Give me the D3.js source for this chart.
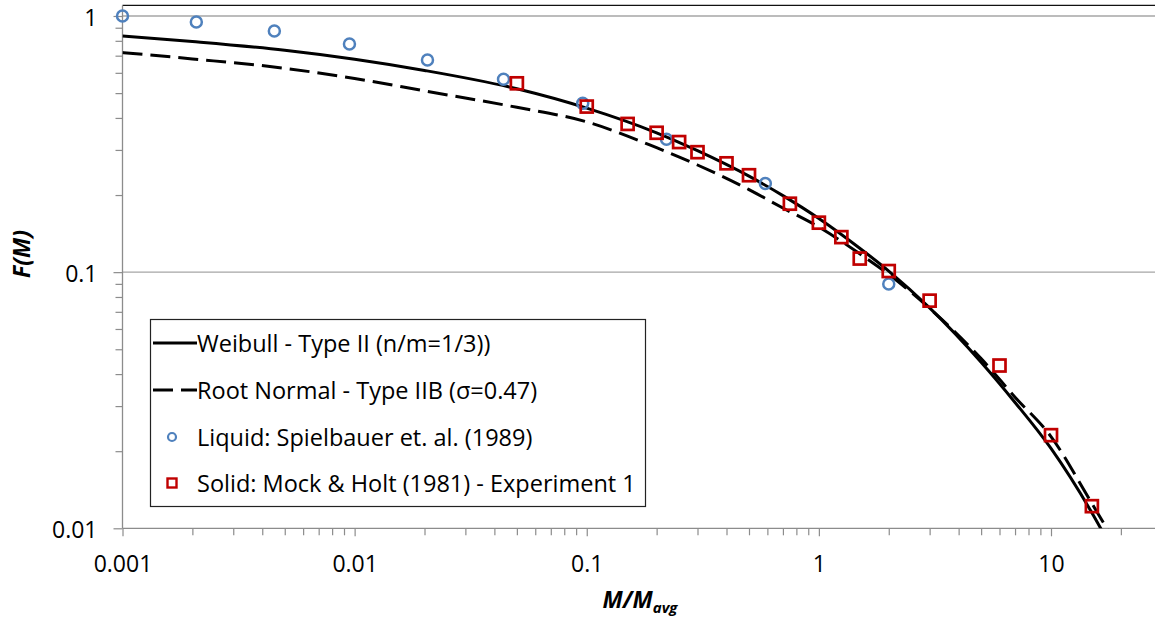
<!DOCTYPE html>
<html>
<head>
<meta charset="utf-8">
<script src="https://cdn.jsdelivr.net/npm/d3@7"></script>
<style>
  body { margin: 0; background: #fff; }
  svg text { font-family: "Open Sans", sans-serif; fill: #000; }
</style>
</head>
<body>
<div id="chart"></div>
<script>
// tick labels
var xMajor = [0.001, 0.01, 0.1, 1, 10];
var xLabels = ["0.001", "0.01", "0.1", "1", "10"];
var yMajor = [0.01, 0.1, 1];
var yLabels = ["0.01", "0.1", "1"];

// Weibull - Type II
var weibullM = [0.001, 0.002, 0.005, 0.01, 0.02, 0.05, 0.1, 0.2, 0.3, 0.5, 0.7, 1, 1.5, 2, 3, 5, 7, 10, 15, 17];
var weibullF = [0.836, 0.795, 0.735, 0.678, 0.613, 0.52, 0.437, 0.35, 0.298, 0.237, 0.199, 0.162, 0.124, 0.101, 0.0725, 0.0445, 0.031, 0.0205, 0.0115, 0.0094];

// Root Normal - Type IIB
var rootM = [0.001, 0.002, 0.005, 0.01, 0.02, 0.05, 0.1, 0.2, 0.3, 0.5, 0.7, 1, 1.5, 2, 3, 5, 7, 10, 15, 18];
var rootF = [0.72, 0.68, 0.625, 0.57, 0.51, 0.44, 0.386, 0.306, 0.262, 0.21, 0.178, 0.15, 0.118, 0.098, 0.0722, 0.046, 0.0325, 0.0228, 0.0125, 0.0095];

// Liquid: Spielbauer et. al. (1989)
var liquidM = [0.001, 0.00208, 0.00451, 0.0095, 0.0206, 0.0438, 0.0961, 0.2206, 0.588, 2.0];
var liquidF = [1.0, 0.947, 0.874, 0.778, 0.673, 0.566, 0.456, 0.330, 0.222, 0.0899];

// Solid: Mock & Holt (1981) - Experiment 1
var solidM = [0.05, 0.1, 0.15, 0.2, 0.25, 0.3, 0.4, 0.5, 0.75, 1, 1.25, 1.5, 2, 3, 6, 10, 15];
var solidF = [0.546, 0.443, 0.379, 0.350, 0.322, 0.294, 0.266, 0.239, 0.185, 0.156, 0.137, 0.113, 0.101, 0.0774, 0.0432, 0.0231, 0.0122];

var svgWidth = 1155;
var svgHeight = 624;

var svg = d3.select("#chart").append("svg")
  .attr("width", svgWidth)
  .attr("height", svgHeight);

// log scales
var x = d3.scaleLog().domain([0.001, 10]).range([122.5, 1051]);
var y = d3.scaleLog().domain([0.01, 1]).range([528.3, 16]);
var xMax = 30, yTop = 1.1;

var plotLeft = x(0.001), plotRight = x(xMax), plotBottom = y(0.01), plotTop = y(yTop);

// clip for curves
svg.append("clipPath").attr("id", "plot")
  .append("rect")
  .attr("x", plotLeft).attr("y", plotTop)
  .attr("width", plotRight - plotLeft).attr("height", plotBottom - plotTop);

// gridlines
svg.append("g").selectAll("line")
  .data(yMajor.slice(1))
  .enter().append("line")
  .attr("x1", plotLeft).attr("x2", plotRight)
  .attr("y1", d => y(d)).attr("y2", d => y(d))
  .attr("stroke", "#a6a6a6").attr("stroke-width", 1.3);

// top border
svg.append("line")
  .attr("x1", plotLeft).attr("x2", plotRight)
  .attr("y1", plotTop).attr("y2", plotTop)
  .attr("stroke", "#111").attr("stroke-width", 1.3);

// minor ticks
var xMinor = x.copy().domain([0.001, 20]).ticks().filter(d => xMajor.indexOf(d) < 0);
var yMinor = y.ticks().filter(d => yMajor.indexOf(d) < 0);

var xMinorAxis = d3.axisBottom(x).tickValues(xMinor).tickSize(7).tickSizeOuter(0).tickFormat("");
var yMinorAxis = d3.axisLeft(y).tickValues(yMinor).tickSize(7).tickSizeOuter(0).tickFormat("");

svg.append("g").attr("class", "axis")
  .attr("transform", `translate(0, ${plotBottom})`)
  .call(xMinorAxis);
svg.append("g").attr("class", "axis")
  .attr("transform", `translate(${plotLeft}, 0)`)
  .call(yMinorAxis);

// major axes
var xAxis = d3.axisBottom(x).tickValues(xMajor).tickSize(8).tickSizeOuter(0)
  .tickFormat((d, i) => xLabels[i]);
var yAxis = d3.axisLeft(y).tickValues(yMajor).tickSize(9).tickSizeOuter(0)
  .tickFormat((d, i) => yLabels[i]);

var gx = svg.append("g").attr("class", "axis")
  .attr("transform", `translate(0, ${plotBottom})`)
  .call(xAxis);
var gy = svg.append("g").attr("class", "axis")
  .attr("transform", `translate(${plotLeft}, 0)`)
  .call(yAxis);

svg.selectAll(".axis path.domain").remove();
svg.selectAll(".axis line").attr("stroke", "#8c8c8c").attr("stroke-width", 1.2);
svg.selectAll(".axis text").attr("font-size", "23px").attr("fill", "#000").style("font-family", "Open Sans");
gx.selectAll("text").attr("dy", null).attr("y", 43.5);
gy.selectAll("text").attr("dy", null).attr("x", -25).attr("y", 9.5);

// axis lines
svg.append("line")
  .attr("x1", plotLeft).attr("x2", plotRight).attr("y1", plotBottom).attr("y2", plotBottom)
  .attr("stroke", "#8c8c8c").attr("stroke-width", 1.3);
svg.append("line")
  .attr("x1", plotLeft).attr("x2", plotLeft).attr("y1", plotTop).attr("y2", plotBottom)
  .attr("stroke", "#8c8c8c").attr("stroke-width", 1.3);

// curves
var line = d3.line()
  .x(d => x(d[0]))
  .y(d => y(d[1]))
  .curve(d3.curveMonotoneX);

var curves = svg.append("g").attr("clip-path", "url(#plot)");

curves.append("path")
  .datum(rootM.map((m, i) => [m, rootF[i]]))
  .attr("d", line)
  .attr("fill", "none")
  .attr("stroke", "#000")
  .attr("stroke-width", 3)
  .attr("stroke-dasharray", "20,8");

curves.append("path")
  .datum(weibullM.map((m, i) => [m, weibullF[i]]))
  .attr("d", line)
  .attr("fill", "none")
  .attr("stroke", "#000")
  .attr("stroke-width", 3);

// data points
svg.append("g").selectAll("circle")
  .data(liquidM.map((m, i) => [m, liquidF[i]]))
  .enter().append("circle")
  .attr("cx", d => x(d[0]))
  .attr("cy", d => y(d[1]))
  .attr("r", 5.5)
  .attr("fill", "none")
  .attr("stroke", "#4f81bd")
  .attr("stroke-width", 2.5);

var sq = 12;
svg.append("g").selectAll("rect")
  .data(solidM.map((m, i) => [m, solidF[i]]))
  .enter().append("rect")
  .attr("x", d => x(d[0]) - sq / 2)
  .attr("y", d => y(d[1]) - sq / 2)
  .attr("width", sq).attr("height", sq)
  .attr("fill", "none")
  .attr("stroke", "#c00000")
  .attr("stroke-width", 2.7);

// axis titles
svg.append("text")
  .attr("transform", "translate(30, 254) rotate(-90)")
  .attr("text-anchor", "middle")
  .attr("font-size", "23px")
  .attr("font-weight", "bold")
  .attr("font-style", "italic")
  .text("F(M)");

var xt = svg.append("text")
  .attr("x", 640).attr("y", 608)
  .attr("text-anchor", "middle")
  .attr("font-size", "23px")
  .attr("font-weight", "bold")
  .attr("font-style", "italic");
xt.append("tspan").text("M/M");
xt.append("tspan").attr("font-size", "15px").attr("dy", 5).text("avg");

// legend
var legendNames = [
  "Weibull - Type II (n/m=1/3))",
  "Root Normal - Type IIB (\u03c3=0.47)",
  "Liquid: Spielbauer et. al. (1989)",
  "Solid: Mock & Holt (1981) - Experiment 1"
];
var legend = svg.append("g");
legend.append("rect")
  .attr("x", 150.5).attr("y", 319.5)
  .attr("width", 495).attr("height", 187)
  .attr("fill", "#fff")
  .attr("stroke", "#222").attr("stroke-width", 1.2);

var rowY = [343, 390, 437, 483];
legend.append("line")
  .attr("x1", 153).attr("x2", 197).attr("y1", rowY[0]).attr("y2", rowY[0])
  .attr("stroke", "#000").attr("stroke-width", 3);
legend.append("line")
  .attr("x1", 153).attr("x2", 197).attr("y1", rowY[1]).attr("y2", rowY[1])
  .attr("stroke", "#000").attr("stroke-width", 3)
  .attr("stroke-dasharray", "20,8");
legend.append("circle")
  .attr("cx", 172).attr("cy", rowY[2]).attr("r", 4)
  .attr("fill", "none").attr("stroke", "#4f81bd").attr("stroke-width", 2.2);
legend.append("rect")
  .attr("x", 172 - 4.5).attr("y", rowY[3] - 4.5)
  .attr("width", 9).attr("height", 9)
  .attr("fill", "none").attr("stroke", "#c00000").attr("stroke-width", 2.4);

legend.selectAll("text.lbl")
  .data(legendNames)
  .enter().append("text")
  .attr("class", "lbl")
  .attr("x", 197)
  .attr("y", (d, i) => rowY[i] + 8.5)
  .attr("font-size", "23.5px")
  .text(d => d);
</script>
</body>
</html>
